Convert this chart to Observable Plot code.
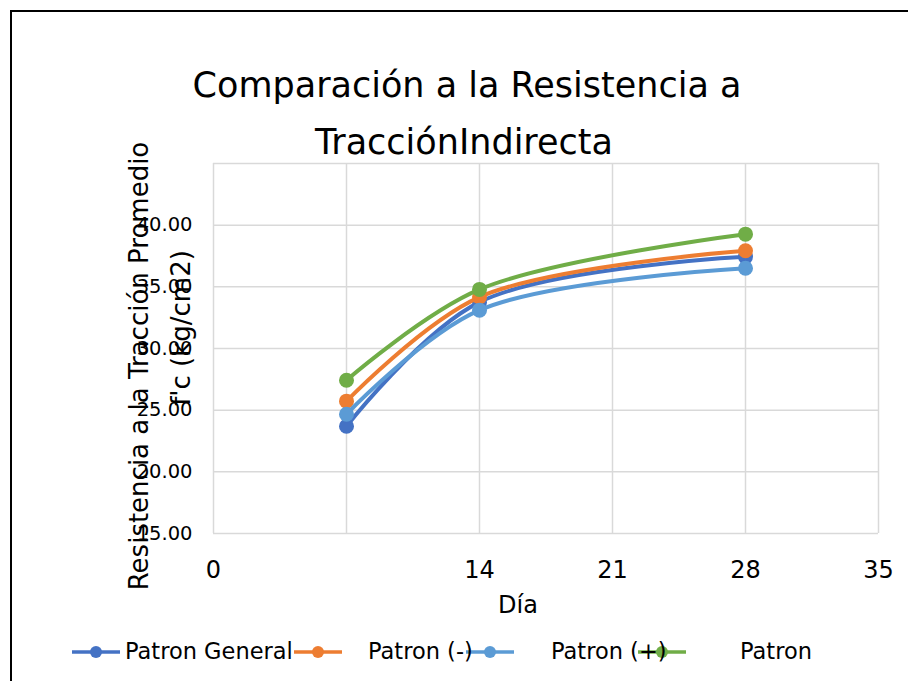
<!DOCTYPE html>
<html>
<head>
<meta charset="utf-8">
<script src="https://cdn.jsdelivr.net/npm/d3@7"></script>
<script src="https://cdn.jsdelivr.net/npm/@observablehq/plot@0.6"></script>
<style>
  html, body { margin: 0; padding: 0; background: #fff; overflow: hidden; }
  #wrap { position: relative; width: 908px; height: 681px; overflow: hidden; font-family: "DejaVu Sans", sans-serif; }
  #frame { position: absolute; left: 10px; top: 10px; width: 1200px; height: 1200px; border-left: 2px solid #000; border-top: 2px solid #000; }
  #chart { position: absolute; left: 0; top: 0; }
  .overlay { position: absolute; left: 0; top: 0; pointer-events: none; }
</style>
</head>
<body>
<div id="wrap">
  <div id="frame"></div>
  <div id="chart"></div>
  <svg class="overlay" id="texts" width="908" height="681"></svg>
</div>
<script>
// ---- Data ----
const dias = [7, 14, 28];
const series = ["Patron General", "Patron (-)", "Patron (+)", "Patron"];
const colores = ["#4472C4", "#ED7D31", "#5B9BD5", "#70AD47"];
const patronGeneral = [23.70, 33.76, 37.43];
const patronMenos   = [25.73, 34.17, 37.92];
const patronMas     = [24.67, 33.11, 36.51];
const patron        = [27.43, 34.79, 39.27];
const xTicks = [0, 14, 21, 28, 35];
const xGrid = [0, 7, 14, 21, 28, 35];
const yTicks = [15, 20, 25, 30, 35, 40];
const yGrid = [15, 20, 25, 30, 35, 40, 45];
const titulo = ["Comparación a la Resistencia a", "TracciónIndirecta"];
const tituloY = ["Resistencia a la Tracción Promedio", "f'c (kg/cm2)"];
const tituloX = "Día";

const valores = [patronGeneral, patronMenos, patronMas, patron];
const data = [];
series.forEach((s, i) => dias.forEach((d, j) => data.push({serie: s, dia: d, valor: valores[i][j]})));

const marks = [
  Plot.ruleX(xGrid, {stroke: "#d9d9d9", strokeWidth: 1.5}),
  Plot.ruleY(yGrid, {stroke: "#d9d9d9", strokeWidth: 1.5}),
  Plot.axisX({ticks: xTicks, tickSize: 0, tickPadding: 27, fontSize: 24, label: null, tickFormat: d => String(d)}),
  Plot.axisY({ticks: yTicks, tickSize: 0, tickPadding: 21, fontSize: 19.5, label: null, tickFormat: d => d.toFixed(2)})
];
series.forEach(s => {
  const sub = data.filter(d => d.serie === s);
  marks.push(Plot.line(sub, {x: "dia", y: "valor", stroke: "serie", strokeWidth: 4, curve: "catmull-rom"}));
  marks.push(Plot.dot(sub, {x: "dia", y: "valor", fill: "serie", r: 7.5}));
});

const chart = Plot.plot({
  width: 908,
  height: 681,
  marginLeft: 213,
  marginRight: 30,
  marginTop: 163,
  marginBottom: 148,
  style: {fontFamily: "DejaVu Sans", color: "#000", background: "transparent"},
  x: {domain: [0, 35]},
  y: {domain: [15, 45]},
  color: {domain: series, range: colores},
  marks
});
document.getElementById("chart").appendChild(chart);

// ---- Titles & legend (text overlay) ----
const svg = d3.select("#texts");
const t = svg.append("text").attr("font-family", "DejaVu Sans").attr("font-size", 35).attr("fill", "#000").attr("text-anchor", "middle");
t.append("tspan").attr("x", 467).attr("y", 97).text(titulo[0]);
t.append("tspan").attr("x", 464).attr("y", 154).text(titulo[1]);

const yPos = [[148, 366], [190, 328]];
tituloY.forEach((s, i) => {
  svg.append("text")
    .attr("transform", `translate(${yPos[i][0]},${yPos[i][1]}) rotate(-90)`)
    .attr("font-family", "DejaVu Sans").attr("font-size", 26).attr("fill", "#000")
    .attr("text-anchor", "middle").text(s);
});

svg.append("text").attr("x", 518).attr("y", 613).attr("font-family", "DejaVu Sans").attr("font-size", 24)
  .attr("fill", "#000").attr("text-anchor", "middle").text(tituloX);

const legSw = [96, 318, 490, 662];
const legTx = [125, 368, 551, 740];
series.forEach((s, i) => {
  const g = svg.append("g");
  g.append("line").attr("x1", legSw[i] - 24).attr("x2", legSw[i] + 24).attr("y1", 652).attr("y2", 652)
    .attr("stroke", colores[i]).attr("stroke-width", 3.5);
  g.append("circle").attr("cx", legSw[i]).attr("cy", 652).attr("r", 6).attr("fill", colores[i]);
});
series.forEach((s, i) => {
  svg.append("text").attr("x", legTx[i]).attr("y", 659).attr("font-family", "DejaVu Sans").attr("font-size", 22.5)
    .attr("fill", "#000").text(s);
});
</script>
</body>
</html>
